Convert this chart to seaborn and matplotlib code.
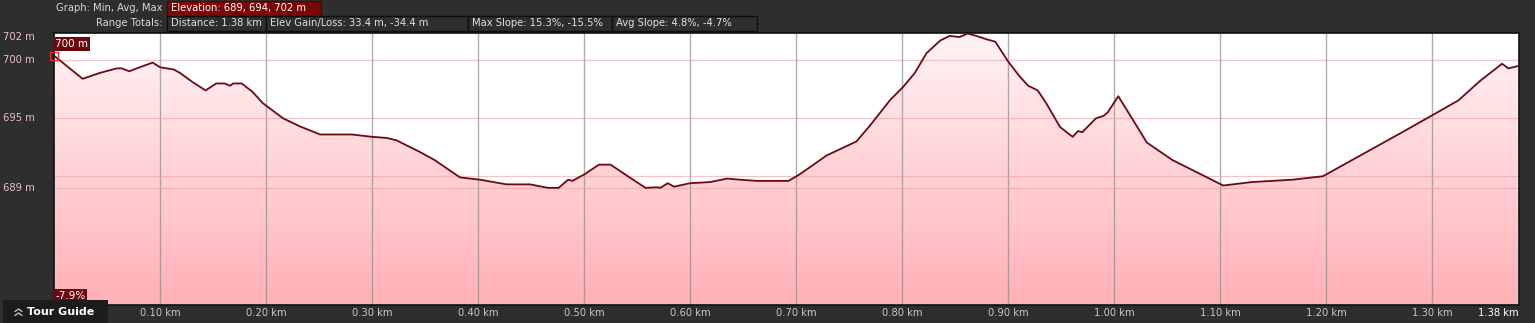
import numpy as np
import pandas as pd
import matplotlib
matplotlib.use("Agg")
import matplotlib.pyplot as plt
import seaborn as sns
from matplotlib.colors import LinearSegmentedColormap
from matplotlib.patches import Rectangle
from matplotlib.lines import Line2D
import matplotlib.transforms as mtransforms

# ---------------- data ----------------
distance_km = [0.000, 0.027, 0.043, 0.059, 0.064, 0.071, 0.081, 0.093, 0.100, 0.113,
               0.119, 0.131, 0.143, 0.153, 0.161, 0.166, 0.169, 0.177, 0.187, 0.197,
               0.216, 0.232, 0.251, 0.281, 0.300, 0.314, 0.323, 0.345, 0.359, 0.383,
               0.402, 0.427, 0.449, 0.466, 0.476, 0.485, 0.489, 0.501, 0.514, 0.525,
               0.543, 0.558, 0.569, 0.572, 0.579, 0.585, 0.600, 0.619, 0.635, 0.647,
               0.663, 0.693, 0.704, 0.729, 0.757, 0.770, 0.789, 0.801, 0.812, 0.823,
               0.836, 0.845, 0.854, 0.862, 0.870, 0.880, 0.888, 0.900, 0.911, 0.919,
               0.928, 0.936, 0.949, 0.958, 0.961, 0.966, 0.970, 0.983, 0.990, 0.994,
               1.004, 1.031, 1.055, 1.103, 1.130, 1.168, 1.197, 1.270, 1.301, 1.325,
               1.345, 1.366, 1.372, 1.381]
elevation_m = [700.4, 698.4, 698.9, 699.3, 699.3, 699.05, 699.4, 699.8, 699.4, 699.2,
               698.9, 698.1, 697.4, 698.0, 698.0, 697.8, 698.0, 698.0, 697.3, 696.3,
               695.0, 694.3, 693.6, 693.6, 693.4, 693.3, 693.1, 692.1, 691.4, 689.9,
               689.7, 689.3, 689.3, 689.0, 689.0, 689.7, 689.6, 690.2, 691.0, 691.0,
               689.9, 689.0, 689.05, 689.0, 689.4, 689.1, 689.4, 689.5, 689.8, 689.7,
               689.6, 689.6, 690.2, 691.8, 693.0, 694.4, 696.6, 697.7, 698.9, 700.6,
               701.7, 702.1, 702.0, 702.3, 702.1, 701.8, 701.6, 699.9, 698.6, 697.8,
               697.4, 696.3, 694.25, 693.6, 693.4, 693.9, 693.8, 695.0, 695.2, 695.5,
               696.9, 692.9, 691.4, 689.2, 689.5, 689.7, 690.0, 693.7, 695.3, 696.55,
               698.2, 699.7, 699.3, 699.5]

x_ticks = [0.10, 0.20, 0.30, 0.40, 0.50, 0.60, 0.70, 0.80, 0.90, 1.00, 1.10, 1.20, 1.30]
x_tick_labels = ["0.10 km", "0.20 km", "0.30 km", "0.40 km", "0.50 km", "0.60 km",
                 "0.70 km", "0.80 km", "0.90 km", "1.00 km", "1.10 km", "1.20 km", "1.30 km"]
end_label = "1.38 km"
y_label_vals = [702, 700, 695, 689]
y_labels = ["702 m", "700 m", "695 m", "689 m"]
h_grid = [700, 695, 690, 689]

header_row1 = ("Graph: Min, Avg, Max", "Elevation: 689, 694, 702 m")
header_row2_label = "Range Totals:"
header_boxes = ["Distance: 1.38 km", "Elev Gain/Loss: 33.4 m, -34.4 m",
                "Max Slope: 15.3%, -15.5%", "Avg Slope: 4.8%, -4.7%"]

df = pd.DataFrame({"km": distance_km, "m": elevation_m})

# ---------------- figure ----------------
W, H = 1535, 323
sns.set_theme(style="white")
plt.rcParams["font.family"] = ["DejaVu Sans"]
fig = plt.figure(figsize=(W / 100, H / 100), dpi=100, facecolor="#2e2e2e")

def fx(px):
    return px / W

def fy(py):
    return 1 - py / H

L, R, T, B = 54, 1519, 33, 305
ax = fig.add_axes([fx(L), fy(B), fx(R - L), (B - T) / H])
ax.set_facecolor("white")
XMIN, XMAX = 0.0, 1.382
YMIN, YMAX = 678.9, 702.35
ax.set_xlim(XMIN, XMAX)
ax.set_ylim(YMIN, YMAX)

# gradient fill under the profile
poly = ax.fill_between(df["km"], df["m"], YMIN, color="none", lw=0)
cmap = LinearSegmentedColormap.from_list("pk", ["#ffb0b6", "#fff4f5"])
grad = np.linspace(0, 1, 256).reshape(-1, 1)
im = ax.imshow(grad, cmap=cmap, aspect="auto", origin="lower",
               extent=[XMIN, XMAX, YMIN, YMAX], zorder=1)
path = poly.get_paths()[0]
im.set_clip_path(path, transform=ax.transData)

# grid
for v in x_ticks:
    ax.axvline(v, color="#8c8c8c", lw=1.0, alpha=0.7, zorder=2)
for v in h_grid:
    ax.axhline(v, color="#e8a0a6", lw=0.9, alpha=0.6, zorder=2)

sns.lineplot(data=df, x="km", y="m", ax=ax, color="#6e0812", lw=1.3, zorder=4,
             estimator=None, sort=False)

# start marker
ax.plot([distance_km[0]], [elevation_m[0]], marker="s", ms=6, mfc="none",
        mec="#e03030", mew=1.0, zorder=5, clip_on=False)

ax.set_xlabel("")
ax.set_ylabel("")
ax.set_xticks([])
ax.set_yticks([])
for s in ax.spines.values():
    s.set_color("#111111")
    s.set_linewidth(1.2)

# x tick labels
xt = mtransforms.blended_transform_factory(ax.transData, fig.transFigure)
for v, lab in zip(x_ticks, x_tick_labels):
    ax.text(v, fy(313), lab, transform=xt, ha="center", va="center",
            fontsize=7.2, color="#c8c8c8")
fig.text(fx(R), fy(313), end_label, ha="right", va="center",
         fontsize=7.2, color="white")

# y labels
yt = mtransforms.blended_transform_factory(fig.transFigure, ax.transData)
for v, lab in zip(y_label_vals, y_labels):
    ax.text(fx(3), v, lab, transform=yt, ha="left", va="center",
            fontsize=7.2, color="#e6c2c2")

# in-plot labels
ax.text(fx(L + 1), fy(44), "700 m", transform=fig.transFigure, ha="left", va="center",
        fontsize=7.5, color="white", zorder=6,
        bbox=dict(boxstyle="square,pad=0.15", fc="#6a0a10", ec="none"))
ax.text(fx(L + 1), fy(296), "-7.9%", transform=fig.transFigure, ha="left", va="center",
        fontsize=7.5, color="white", zorder=6,
        bbox=dict(boxstyle="square,pad=0.15", fc="#6a0a10", ec="none"))

# Tour guide tab
fig.patches.append(Rectangle((fx(3), 0), fx(105), (H - 300) / H, transform=fig.transFigure,
                             fc="#1c1c1c", ec="none", zorder=10))
for cy in (309, 313):
    fig.add_artist(Line2D([fx(15), fx(18.5), fx(22)], [fy(cy + 2.5), fy(cy), fy(cy + 2.5)],
                          transform=fig.transFigure, color="#bbbbbb", lw=1.0, zorder=11))
fig.text(fx(27), fy(312), "Tour Guide", fontsize=8, color="white", ha="left", va="center",
         fontweight="bold", zorder=11)

# header
fig.text(fx(162), fy(8), header_row1[0], fontsize=7.2, color="#d8d8d8", ha="right", va="center")
fig.patches.append(Rectangle((fx(167), fy(16)), fx(154), 15 / H, transform=fig.transFigure,
                             fc="#7a0505", ec="#1a1a1a", lw=0.8))
fig.text(fx(171), fy(8), header_row1[1], fontsize=7.2, color="white", ha="left", va="center")

fig.text(fx(162), fy(23), header_row2_label, fontsize=7.2, color="#d8d8d8", ha="right", va="center")
box_x = [167, 266, 468, 612, 757]
for i, lab in enumerate(header_boxes):
    x0, x1 = box_x[i], box_x[i + 1]
    fig.patches.append(Rectangle((fx(x0), fy(31)), fx(x1 - x0), 15 / H,
                                 transform=fig.transFigure, fc="#2e2e2e",
                                 ec="#0e0e0e", lw=1.0))
    fig.text(fx(x0 + 4), fy(23), lab, fontsize=7.2, color="#e0e0e0", ha="left", va="center")

fig.savefig("out.png", dpi=100, facecolor=fig.get_facecolor())
